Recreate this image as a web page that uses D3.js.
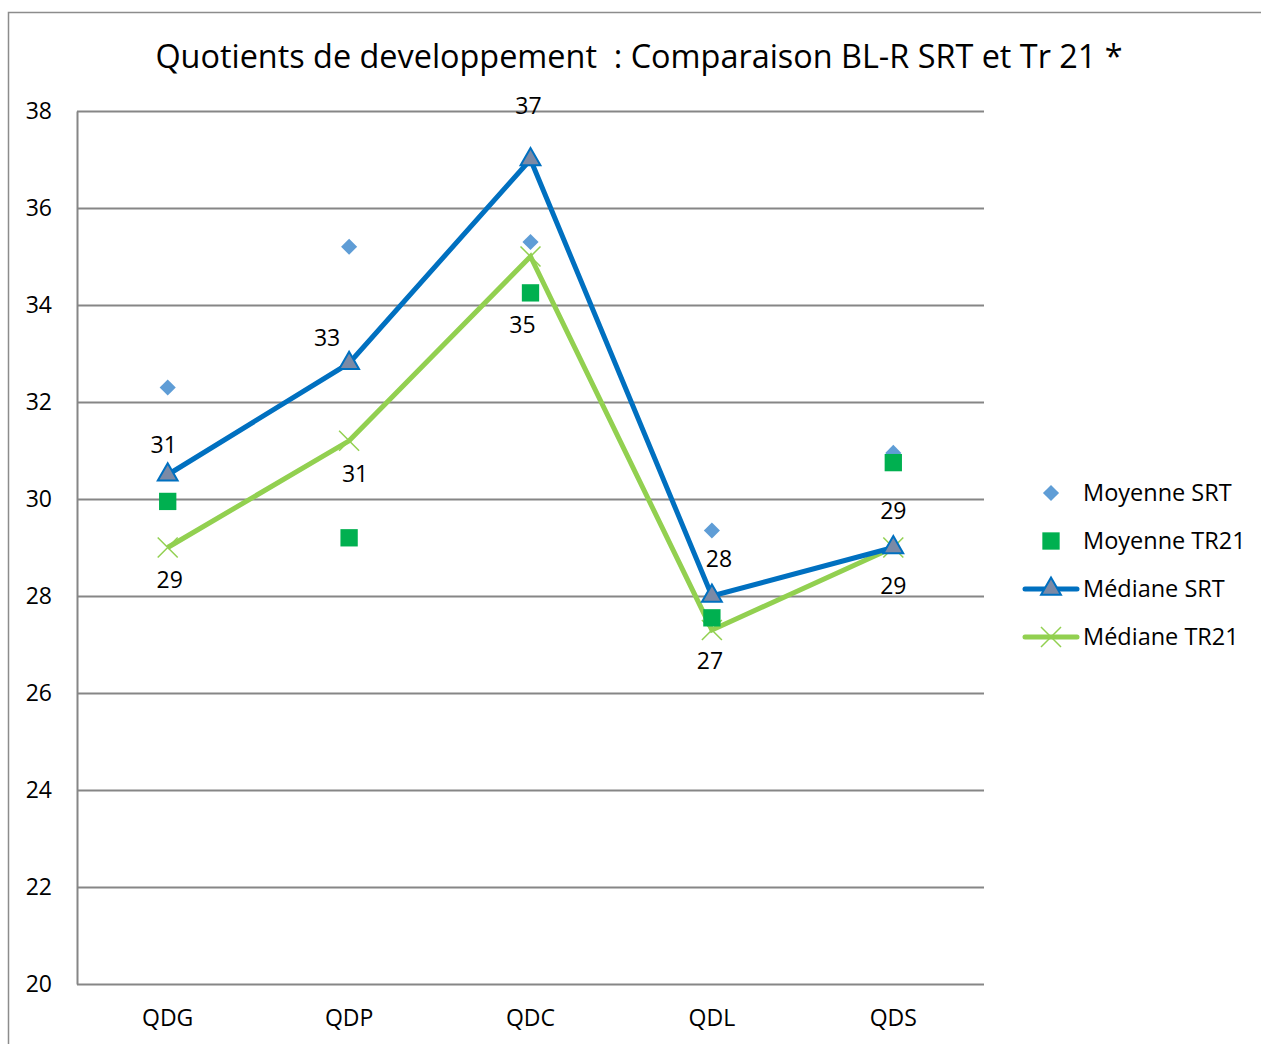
<html>
<head>
<script src="https://d3js.org/d3.v7.min.js"></script>
<title>Quotients de developpement</title>
<style>
  body { margin: 0; padding: 0; background: #fff; }
  svg text { font-family: "Open Sans", "Liberation Sans", sans-serif; fill: #000; }
</style>
</head>
<body>
<script>
// categories and series
var categories = ["QDG", "QDP", "QDC", "QDL", "QDS"];
var moyenneSRT  = [32.3, 35.2, 35.3, 29.35, 30.95];
var moyenneTR21 = [29.95, 29.2, 34.25, 27.55, 30.75];
var medianeSRT  = [30.5, 32.8, 37, 28, 29];
var medianeTR21 = [29, 31.2, 35, 27.3, 29];
var yTicks = [20, 22, 24, 26, 28, 30, 32, 34, 36, 38];
var seriesNames = ["Moyenne SRT", "Moyenne TR21", "Médiane SRT", "Médiane TR21"];

var width = 1261, height = 1044;
var margin = {left: 77, right: 277, top: 111, bottom: 60};

var svg = d3.select("body").append("svg")
    .attr("width", width)
    .attr("height", height);

// outer frame (top + left edges visible)
svg.append("path")
    .attr("d", "M8.5," + height + "V12.5H" + width)
    .attr("fill", "none")
    .attr("stroke", "#8c8c8c")
    .attr("stroke-width", 1.5);

svg.append("text")
    .attr("x", 639)
    .attr("y", 68)
    .attr("text-anchor", "middle")
    .style("font-size", "32.4px")
    .style("white-space", "pre")
    .text("Quotients de developpement  : Comparaison BL-R SRT et Tr 21 *");

var x = d3.scaleBand()
    .domain(categories)
    .range([margin.left, width - margin.right]);

var y = d3.scaleLinear()
    .domain([20, 38])
    .range([height - margin.bottom, margin.top]);

function cx(i) { return x(categories[i]) + x.bandwidth() / 2; }

// gridlines
svg.append("g").selectAll("line")
  .data(yTicks)
  .enter().append("line")
    .attr("x1", margin.left)
    .attr("x2", width - margin.right)
    .attr("y1", function(d) { return Math.round(y(d)) + 0.5; })
    .attr("y2", function(d) { return Math.round(y(d)) + 0.5; })
    .attr("stroke", "#868686")
    .attr("stroke-width", 2);

// y axis
var yAxis = svg.append("g")
    .attr("transform", "translate(" + margin.left + ",0)")
    .call(d3.axisLeft(y).tickValues(yTicks).tickSize(0).tickPadding(25));
yAxis.select(".domain").attr("stroke", "#868686").attr("stroke-width", 2);
yAxis.selectAll("text").style("font-size", "23px").attr("font-family", null);

// x axis labels
var xAxis = svg.append("g")
    .attr("transform", "translate(0," + (height - margin.bottom) + ")")
    .call(d3.axisBottom(x).tickSize(0).tickPadding(26));
xAxis.select(".domain").remove();
xAxis.selectAll("text").style("font-size", "23px").attr("font-family", null);

var line = d3.line()
    .x(function(d, i) { return cx(i); })
    .y(function(d) { return y(d); });

// Médiane TR21 line + crosses
svg.append("path")
    .datum(medianeTR21)
    .attr("d", line)
    .attr("fill", "none")
    .attr("stroke", "#92d050")
    .attr("stroke-width", 5);

svg.append("g").selectAll("path")
  .data(medianeTR21)
  .enter().append("path")
    .attr("transform", function(d, i) { return "translate(" + cx(i) + "," + y(d) + ")"; })
    .attr("d", "M-10,-10L10,10M-10,10L10,-10")
    .attr("stroke", "#92d050")
    .attr("stroke-width", 1.5);

// Médiane SRT line + triangles
svg.append("path")
    .datum(medianeSRT)
    .attr("d", line)
    .attr("fill", "none")
    .attr("stroke", "#0070c0")
    .attr("stroke-width", 5);

var tri = d3.symbol().type(d3.symbolTriangle).size(170);
svg.append("g").selectAll("path")
  .data(medianeSRT)
  .enter().append("path")
    .attr("transform", function(d, i) { return "translate(" + cx(i) + "," + y(d) + ")"; })
    .attr("d", tri)
    .attr("fill", "#7b8aa6")
    .attr("stroke", "#0070c0")
    .attr("stroke-width", 2);

// Moyenne SRT diamonds
var diamond = d3.symbol().type(d3.symbolSquare).size(130);
svg.append("g").selectAll("path")
  .data(moyenneSRT)
  .enter().append("path")
    .attr("transform", function(d, i) { return "translate(" + cx(i) + "," + y(d) + ") rotate(45)"; })
    .attr("d", diamond)
    .attr("fill", "#5f9dd6");

// Moyenne TR21 squares
var square = d3.symbol().type(d3.symbolSquare).size(300);
svg.append("g").selectAll("path")
  .data(moyenneTR21)
  .enter().append("path")
    .attr("transform", function(d, i) { return "translate(" + cx(i) + "," + y(d) + ")"; })
    .attr("d", square)
    .attr("fill", "#00b050");

// data labels (rounded values); small nudges copy the manual placement
var srtNudge  = [[-4, -30], [-22, -25], [-2, -54], [7, -37], [0, -37]];
var tr21Nudge = [[2, 32], [6, 33], [-8, 68], [-2, 31], [0, 38]];

svg.append("g").selectAll("text")
  .data(medianeSRT)
  .enter().append("text")
    .attr("x", function(d, i) { return cx(i) + srtNudge[i][0]; })
    .attr("y", function(d, i) { return y(d) + srtNudge[i][1]; })
    .attr("dy", "0.35em")
    .attr("text-anchor", "middle")
    .style("font-size", "23px")
    .text(function(d) { return d3.format(".0f")(d); });

svg.append("g").selectAll("text")
  .data(medianeTR21)
  .enter().append("text")
    .attr("x", function(d, i) { return cx(i) + tr21Nudge[i][0]; })
    .attr("y", function(d, i) { return y(d) + tr21Nudge[i][1]; })
    .attr("dy", "0.35em")
    .attr("text-anchor", "middle")
    .style("font-size", "23px")
    .text(function(d) { return d3.format(".0f")(d); });

// legend
var legend = svg.append("g").attr("transform", "translate(1051,493)");
var item = legend.selectAll("g")
  .data(seriesNames)
  .enter().append("g")
    .attr("transform", function(d, i) { return "translate(0," + (i * 48) + ")"; });

item.append("text")
    .attr("x", 32)
    .attr("dy", "0.35em")
    .style("font-size", "23.5px")
    .text(function(d) { return d; });

item.filter(function(d, i) { return i === 0; }).append("path")
    .attr("d", diamond).attr("transform", "rotate(45)").attr("fill", "#5f9dd6");
item.filter(function(d, i) { return i === 1; }).append("path")
    .attr("d", square).attr("fill", "#00b050");
var l2 = item.filter(function(d, i) { return i === 2; });
l2.append("line").attr("x1", -26).attr("x2", 26)
    .attr("stroke", "#0070c0").attr("stroke-width", 5).attr("stroke-linecap", "round");
l2.append("path").attr("d", tri)
    .attr("fill", "#7b8aa6").attr("stroke", "#0070c0").attr("stroke-width", 2);
var l3 = item.filter(function(d, i) { return i === 3; });
l3.append("line").attr("x1", -26).attr("x2", 26)
    .attr("stroke", "#92d050").attr("stroke-width", 5).attr("stroke-linecap", "round");
l3.append("path").attr("d", "M-10,-10L10,10M-10,10L10,-10")
    .attr("stroke", "#92d050").attr("stroke-width", 1.5);
</script>
</body>
</html>
